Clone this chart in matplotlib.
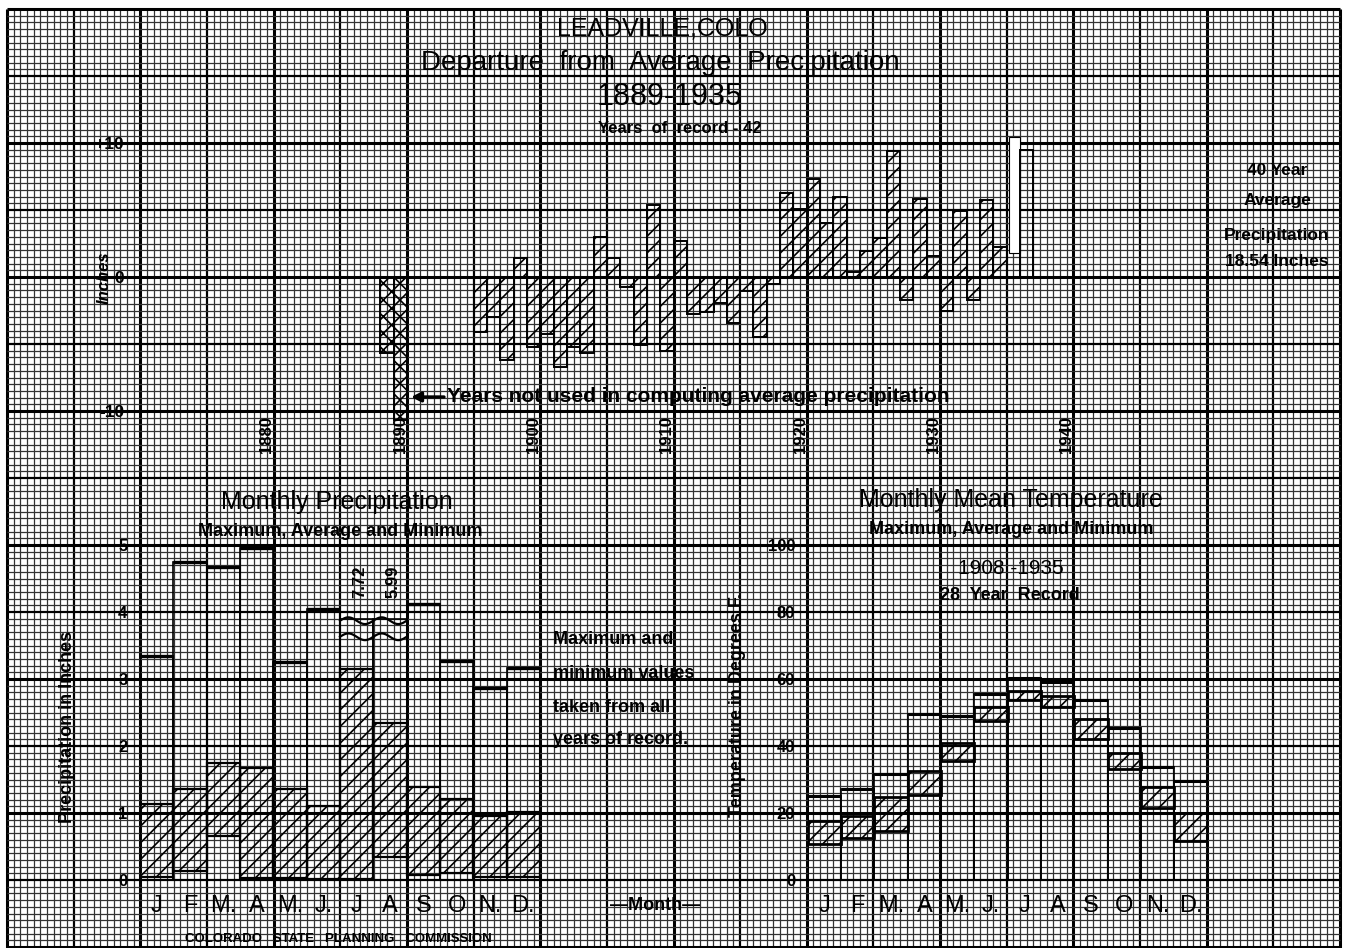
import numpy as np
import matplotlib.pyplot as plt

plt.rcParams['font.family'] = ['Liberation Sans', 'DejaVu Sans']
plt.rcParams['hatch.linewidth'] = 1.2

W, H = 1348, 948

# --- departure from 40 year average precipitation (inches) ---
dep_years = np.arange(1896, 1936)
dep_values = [-4.1, -3.0, -6.2, 1.4, -5.2, -4.25, -6.75, -5.25, -5.7, 3.0,
              1.45, -0.75, -5.1, 5.4, -5.5, 2.7, -2.75, -2.6, -1.95, -3.4,
              -1.05, -4.5, -0.55, 6.25, 5.05, 7.3, 4.0, 6.0, 0.4, 1.95,
              2.9, 9.4, -1.7, 5.8, 1.6, -2.5, 4.9, -1.7, 5.75, 2.25]
unused_years = [1889, 1890]
unused_values = [-5.7, -10.7]
erased_year = 1936
erased_bottom, erased_top = 1.8, 10.45
last_year = 1937
last_value = 9.45
decade_labels = [1880, 1890, 1900, 1910, 1920, 1930, 1940]

# --- monthly precipitation (inches) ---
month_labels = ['J', 'F', 'M.', 'A', 'M.', 'J.', 'J', 'A', 'S', 'O', 'N.', 'D.']
precip_max = [3.35, 4.75, 4.67, 4.96, 3.25, 4.04, 7.72, 5.99, 4.12, 3.27, 2.86, 3.17]
precip_avg = [1.14, 1.36, 1.75, 1.67, 1.36, 1.11, 3.15, 2.35, 1.39, 1.21, 0.95, 1.02]
precip_min = [0.05, 0.14, 0.65, 0.03, 0.03, 0.02, 0.02, 0.35, 0.07, 0.10, 0.05, 0.05]
precip_top = 5.0      # values above this are drawn broken
precip_break = 3.9

# --- monthly mean temperature (deg F) ---
temp_max = [25.2, 27.2, 31.5, 49.5, 49.0, 55.5, 60.2, 59.0, 53.8, 45.5, 33.8, 29.5]
temp_avg = [17.5, 19.0, 24.8, 32.5, 41.0, 51.5, 56.5, 54.8, 48.0, 38.0, 27.8, 20.0]
temp_min = [10.8, 12.5, 14.5, 25.5, 35.5, 47.5, 53.8, 51.5, 42.0, 33.2, 21.5, 11.5]


fig = plt.figure(figsize=(W / 100, H / 100), dpi=100)
fig.patch.set_facecolor('white')

# graph paper background, drawn in pixel units
bg = fig.add_axes([0, 0, 1, 1])
bg.set_xlim(0, W)
bg.set_ylim(H, 0)
bg.axis('off')

gx = np.linspace(7, 1340, 201)
gy = 9 + 6.7 * np.arange(141)
for i, x in enumerate(gx):
    if i % 20 == 0:
        lw, c = 2.2, 'black'
    elif i % 10 == 0:
        lw, c = 1.6, 'black'
    else:
        lw, c = 0.9, '0.2'
    bg.vlines(x, gy[0], 948, color=c, lw=lw)
for j, y in enumerate(gy):
    if j % 20 == 0:
        lw, c = 2.2, 'black'
    elif j % 10 == 0:
        lw, c = 1.6, 'black'
    else:
        lw, c = 0.9, '0.2'
    bg.hlines(y, gx[0], gx[-1], color=c, lw=lw)


def px_axes(x0, y0, x1, y1):
    ax = fig.add_axes([x0 / W, 1 - y1 / H, (x1 - x0) / W, (y1 - y0) / H])
    ax.patch.set_visible(False)
    for s in ax.spines.values():
        s.set_visible(False)
    return ax


# ---------------- top: departure chart ----------------
ax1 = px_axes(127, 9, 1340, 545)
ax1.set_xlim(1869, 1960)
ax1.set_ylim(-20, 20)
ax1.bar(dep_years - 1, dep_values, width=1, align='edge', facecolor='none',
        edgecolor='black', hatch='//', lw=1.4)
ax1.bar(np.array(unused_years) - 1, unused_values, width=1, align='edge',
        facecolor='none', edgecolor='black', hatch='xx', lw=1.4)
ax1.bar(erased_year - 0.8, erased_top - erased_bottom, bottom=erased_bottom,
        width=0.8, align='edge', color='white', edgecolor='black', lw=0.8)
ax1.bar(last_year - 1, last_value, width=1, align='edge', facecolor='none',
        edgecolor='black', lw=1.4)
ax1.set_xticks([])
ax1.set_yticks([-10, 0, 10], ['-10', '0', '+10'], fontsize=12.5, fontweight='bold')
ax1.tick_params(axis='y', length=0, pad=2)
for yr in decade_labels:
    ax1.text(yr - 0.5, -10.4, str(yr), rotation=90, ha='center', va='top',
             fontsize=12, fontweight='bold')

# ---------------- bottom left: monthly precipitation ----------------
ax2 = px_axes(140, 545, 540, 880)
ax2.set_xlim(0, 12)
ax2.set_ylim(0, 5)
mx = np.arange(12)
p_max = np.array(precip_max)
whole = p_max <= precip_top
p_shown = np.where(whole, p_max, precip_break)
ax2.bar(mx, p_shown, width=1, align='edge', facecolor='none',
        edgecolor='black', lw=1.2)
ax2.hlines(p_max[whole], mx[whole], mx[whole] + 1, color='black', lw=2.4)
ax2.bar(mx, np.array(precip_avg) - np.array(precip_min), bottom=precip_min,
        width=1, align='edge', facecolor='none', edgecolor='black',
        hatch='//', lw=1.6)
for i in mx[~whole]:
    t = np.linspace(i, i + 1, 60)
    for lev in (precip_break - 0.03, precip_break - 0.27):
        ax2.plot(t, lev + 0.05 * np.sin((t - i) * 2 * np.pi), color='black', lw=1.6)
    ax2.text(i + 0.6, 4.45, f'{p_max[i]:.2f}', rotation=90, ha='center',
             va='center', fontsize=12, fontweight='bold')
ax2.set_yticks(range(6), [str(v) for v in range(6)], fontsize=12, fontweight='bold')
ax2.set_xticks(mx + 0.5, month_labels, fontsize=17)
ax2.tick_params(axis='y', length=0, pad=9)
ax2.tick_params(axis='x', length=0, pad=11)

# ---------------- bottom right: monthly mean temperature ----------------
ax3 = px_axes(807.7, 545, 1207.7, 880)
ax3.set_xlim(0, 12)
ax3.set_ylim(0, 100)
ax3.bar(mx, temp_max, width=1, align='edge', facecolor='none',
        edgecolor='black', lw=1.2)
ax3.hlines(temp_max, mx, mx + 1, color='black', lw=2.2)
ax3.bar(mx, np.array(temp_avg) - np.array(temp_min), bottom=temp_min,
        width=1, align='edge', facecolor='none', edgecolor='black',
        hatch='//', lw=2.0)
ax3.set_yticks(range(0, 101, 20), [str(v) for v in range(0, 101, 20)],
               fontsize=12, fontweight='bold')
ax3.set_xticks(mx + 0.5, month_labels, fontsize=17)
ax3.tick_params(axis='y', length=0, pad=9)
ax3.tick_params(axis='x', length=0, pad=11)

# ---------------- text ----------------
bg.text(662, 28, 'LEADVILLE,COLO', ha='center', va='center', fontsize=18)
bg.text(660, 63, 'Departure  from  Average  Precipitation', ha='center',
        va='center', fontsize=20)
bg.text(670, 97, '1889-1935', ha='center', va='center', fontsize=22)
bg.text(680, 128, 'Years  of  record - 42', ha='center', va='center',
        fontsize=12, fontweight='bold')
bg.text(104, 278, 'Inches', rotation=90, ha='center', va='center',
        fontsize=12, fontweight='bold', style='italic')

for txt, y in [('40 Year', 170), ('Average', 200), ('Precipitation', 235),
               ('18.54 Inches', 262)]:
    bg.text(1277, y, txt, ha='center', va='center', fontsize=12.5,
            fontweight='bold')

bg.annotate('', xy=(411, 397), xytext=(444, 397),
            arrowprops=dict(arrowstyle='-|>', color='black', lw=2.4,
                            mutation_scale=14, shrinkA=0, shrinkB=0))
bg.text(447, 397, 'Years not used in computing average precipitation',
        ha='left', va='center', fontsize=15, fontweight='bold')

bg.text(337, 502, 'Monthly Precipitation', ha='center', va='center', fontsize=18)
bg.text(340, 532, 'Maximum, Average and Minimum', ha='center', va='center',
        fontsize=13, fontweight='bold')
bg.text(1011, 500, 'Monthly Mean Temperature', ha='center', va='center',
        fontsize=18)
bg.text(1011, 529, 'Maximum, Average and Minimum', ha='center', va='center',
        fontsize=13, fontweight='bold')
bg.text(1011, 568, '1908 -1935', ha='center', va='center', fontsize=15)
bg.text(1010, 596, '28  Year  Record', ha='center', va='center', fontsize=13,
        fontweight='bold')

for txt, y in [('Maximum and', 640), ('minimum values', 673),
               ('taken from all', 707), ('years of record.', 740)]:
    bg.text(553, y, txt, ha='left', va='center', fontsize=13, fontweight='bold')

bg.text(68, 727, 'Precipitation in Inches', rotation=90, ha='center',
        va='center', fontsize=13, fontweight='bold')
bg.text(737, 705, 'Temperature in Degrees F.', rotation=90, ha='center',
        va='center', fontsize=13, fontweight='bold')
bg.text(655, 905, '\u2014Month\u2014', ha='center', va='center', fontsize=13,
        fontweight='bold')
bg.text(338, 933, 'COLORADO   STATE   PLANNING   COMMISSION', ha='center',
        va='top', fontsize=9.5, fontweight='bold')

fig.savefig('out.png', dpi=100)
